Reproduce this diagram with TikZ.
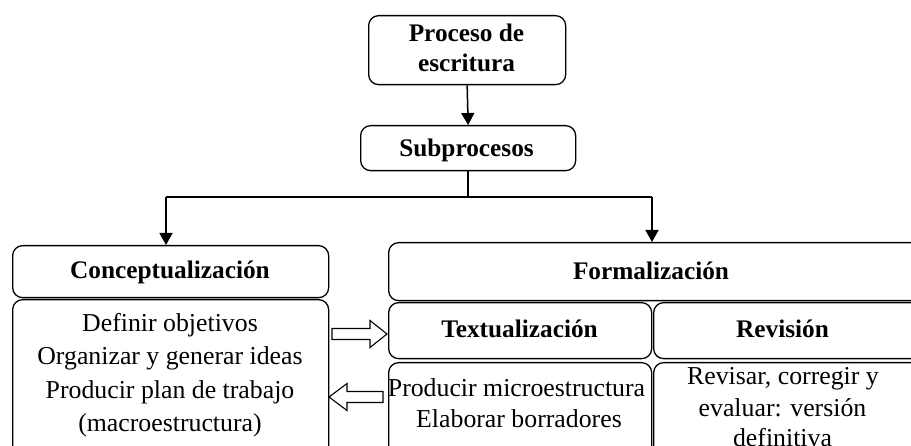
\documentclass[tikz,border=0pt]{standalone}
\usepackage{fontspec}
\setmainfont{Liberation Serif}
\usetikzlibrary{arrows.meta}
\begin{document}
\begin{tikzpicture}[x=1pt,y=-1pt,
  box/.style={draw, rounded corners=10pt, line width=1.3pt, inner sep=0pt, anchor=north west},
  lbl/.style={anchor=base, inner sep=0pt, font=\fontsize{25.8}{30}\selectfont},
  ttl/.style={anchor=base, inner sep=0pt, font=\fontsize{25.3}{30}\selectfont\bfseries},
  conn/.style={line width=1.5pt},
  tip/.style={-{Triangle[width=13pt,length=12pt]}},
  hollow/.style={draw, line width=1.1pt, fill=white, line join=miter}]
\useasboundingbox (0,0) rectangle (911,446);
\clip (0,0) rectangle (911,446);
% boxes
\node[box, minimum width=197pt, minimum height=69pt] (proc) at (368,15) {};
\node[box, minimum width=215pt, minimum height=45pt] (sub) at (360,125) {};
\node[box, minimum width=316pt, minimum height=52pt] (conc) at (12,245) {};
\node[box, minimum width=316pt, minimum height=180pt] (concb) at (12,299) {};
\node[box, minimum width=540pt, minimum height=58pt] (form) at (388,242) {};
\node[box, minimum width=263pt, minimum height=56pt] (text) at (388,302) {};
\node[box, minimum width=280pt, minimum height=56pt] (rev) at (653,302) {};
\node[box, minimum width=263pt, minimum height=120pt] (textb) at (388,362) {};
\node[box, minimum width=280pt, minimum height=120pt] (revb) at (653,362) {};
% texts
\node[ttl] (t1) at (466.5,41.7) {Proceso de};
\node[ttl] (t2) at (466.5,71.7) {escritura};
\node[ttl] (t3) at (466.5,156.7) {Subprocesos};
\node[ttl] (t4) at (170,279) {Conceptualización};
\node[ttl] (t5) at (651,280) {Formalización};
\node[ttl] (t6) at (519.5,338) {Textualización};
\node[ttl] (t7) at (782.5,338) {Revisión};
\node[lbl] (c1) at (170,331.5) {Definir objetivos};
\node[lbl] (c2) at (170,364.8) {Organizar y generar ideas};
\node[lbl] (c3) at (170,398.1) {Producir plan de trabajo};
\node[lbl] (c4) at (170,431.4) {(macroestructura)};
\node[lbl] (x1) at (516.5,396.7) {Producir microestructura};
\node[lbl] (x2) at (519,428) {Elaborar borradores};
\node[lbl] (r1) at (783,385) {Revisar, corregir y};
\node[lbl] (r2) at (782.5,416.7) {evaluar: versión};
\node[lbl] (r3) at (782.5,446.7) {definitiva};
% connectors
\coordinate (jl) at (166,197);
\coordinate (jr) at (652,197);
\draw[conn, tip] (proc.south) -- (sub.north);
\draw[conn] (sub.south) -- (sub.south |- jl);
\draw[conn] (jl) -- (jr);
\draw[conn, tip] (jl) -- (jl |- conc.north);
\draw[conn, tip] (jr) -- (jr |- form.north);
% hollow arrows
\draw[hollow] (332,328.5) -- (370,328.5) -- (370,320.5) -- (387,334) -- (370,347.5) -- (370,339.5) -- (332,339.5) -- cycle;
\draw[hollow] (383,391.5) -- (347,391.5) -- (347,383.5) -- (329,397) -- (347,410.5) -- (347,402.5) -- (383,402.5) -- cycle;
\end{tikzpicture}
\end{document}
